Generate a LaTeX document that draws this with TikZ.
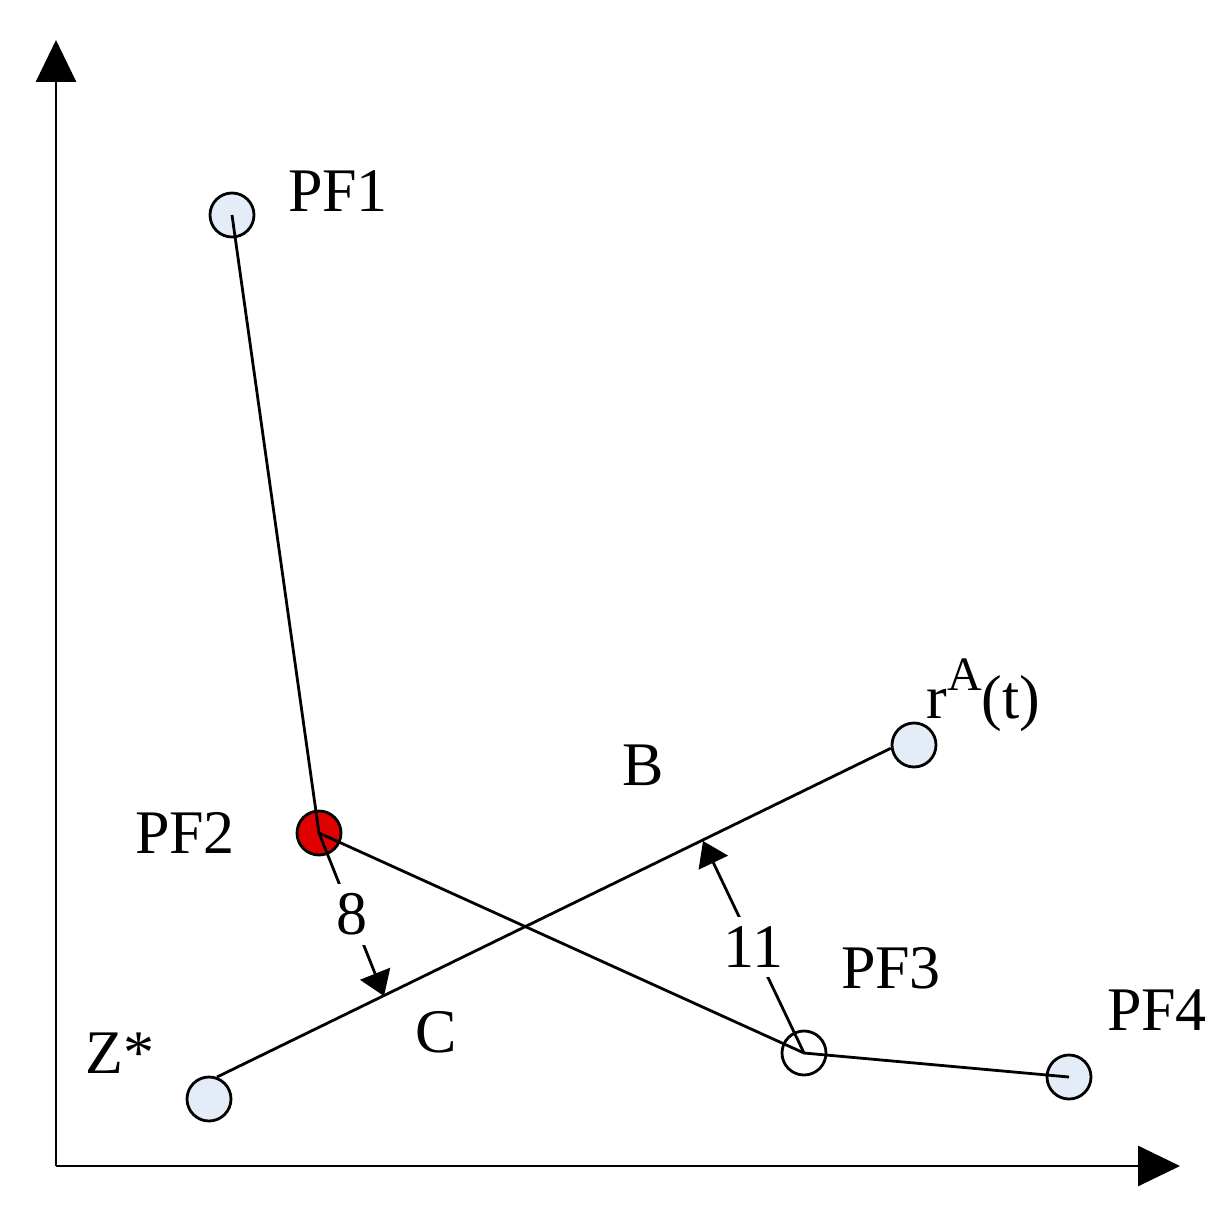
\documentclass[tikz,border=0pt]{standalone}
\usepackage{fontspec}
\setmainfont{Liberation Serif}
\usetikzlibrary{arrows.meta}
\definecolor{ptblue}{RGB}{228,236,247}
\definecolor{ptred}{RGB}{225,0,0}
\tikzset{
  pt/.style={circle, draw, line width=1.4pt, minimum size=22pt, inner sep=0pt, fill=ptblue},
  lbl/.style={inner sep=0pt, anchor=base, font=\fontsize{31}{37}\selectfont},
  gap/.style={fill=white, inner sep=5pt, font=\fontsize{31}{37}\selectfont},
  big/.style={-{Triangle[length=21pt,width=20pt]}},
  small/.style={-{Triangle[length=12pt,width=16pt]}},
}
\begin{document}
\begin{tikzpicture}[x=0.5pt, y=-0.5pt, line width=1.4pt]
  \useasboundingbox (0,0) rectangle (1219,1219);
  % axes
  \coordinate (o) at (56,1166);
  \coordinate (ytip) at (56,40);
  \coordinate (xtip) at (1180,1166);
  \draw[big] (o) -- (ytip);
  \draw[big] (o) -- (xtip);
  % points
  \node[pt] (pf1) at (232,215) {};
  \node[pt, fill=ptred] (pf2) at (319,833) {};
  \node[pt, fill=white] (pf3) at (804,1053) {};
  \node[pt] (pf4) at (1069,1077) {};
  \node[pt] (za) at (209,1099) {};
  \node[pt] (ra) at (914,745) {};
  % front and direction
  \draw (pf1.center) -- (pf2.center) -- (pf3.center) -- (pf4.center);
  \draw (za.70) -- (ra.188);
  % distances
  \coordinate (c8) at (384,996);
  \coordinate (c11) at (703,841);
  \draw[small] (pf2.center) -- node[gap] (d8) {8} (c8);
  \draw[small] (pf3.center) -- node[gap] (d11) {11} (c11);
  % labels
  \node[lbl] (lpf1) at (338,212) {PF1};
  \node[lbl] (lpf2) at (185,853) {PF2};
  \node[lbl] (lpf3) at (891,988) {PF3};
  \node[lbl] (lpf4) at (1157,1030) {PF4};
  \node[lbl] (lza) at (120,1073) {Z*};
  \node[lbl] (lb) at (643,785) {B};
  \node[lbl] (lc) at (436,1052) {C};
  \node[lbl, anchor=base west] (lra) at (925,718) {r\raisebox{0.45em}{\fontsize{24}{28}\selectfont A}(t)};
\end{tikzpicture}
\end{document}
